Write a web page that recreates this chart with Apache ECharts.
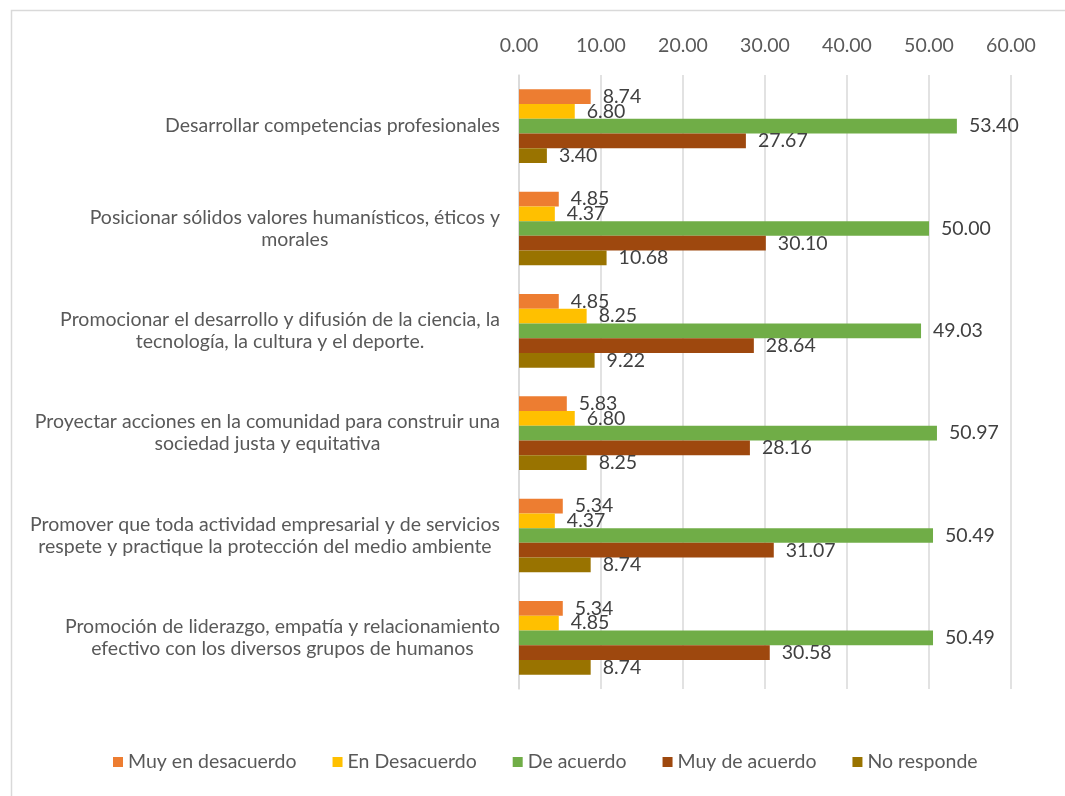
<!DOCTYPE html>
<html>
<head>
<meta charset="utf-8">
<script src="https://cdn.jsdelivr.net/npm/echarts@6/dist/echarts.min.js"></script>
<style>
  html, body { margin: 0; padding: 0; background: #fff; }
  #chart { width: 1065px; height: 796px; }
</style>
</head>
<body>
<div id="chart"></div>
<script>
// categories (top to bottom), line breaks as in the original chart
const categories = [
  'Desarrollar competencias profesionales',
  'Posicionar sólidos valores humanísticos, éticos y\nmorales',
  'Promocionar el desarrollo y difusión de la ciencia, la\ntecnología, la cultura y el deporte.',
  'Proyectar acciones en la comunidad para construir una\nsociedad justa y equitativa',
  'Promover que toda actividad empresarial y de servicios\nrespete y practique la protección del medio ambiente',
  'Promoción de liderazgo, empatía y relacionamiento\nefectivo con los diversos grupos de humanos',
];

const seriesNames = ['Muy en desacuerdo', 'En Desacuerdo', 'De acuerdo', 'Muy de acuerdo', 'No responde'];

const muyEnDesacuerdo = [8.74, 4.85, 4.85, 5.83, 5.34, 5.34];
const enDesacuerdo = [6.80, 4.37, 8.25, 6.80, 4.37, 4.85];
const deAcuerdo = [53.40, 50.00, 49.03, 50.97, 50.49, 50.49];
const muyDeAcuerdo = [27.67, 30.10, 28.64, 28.16, 31.07, 30.58];
const noResponde = [3.40, 10.68, 9.22, 8.25, 8.74, 8.74];

const colors = ['#ED7D31', '#FFC000', '#70AD47', '#9E480E', '#997300'];

const FONT = 'Lato, "Open Sans", sans-serif';
const FS = 19.5;
const chart = echarts.init(document.getElementById('chart'));

const series = [muyEnDesacuerdo, enDesacuerdo, deAcuerdo, muyDeAcuerdo, noResponde]
  .map((data, idx) => ({
    name: seriesNames[idx],
    type: 'bar',
    data,
    barGap: '0%',
    barCategoryGap: '28%',
    itemStyle: { color: colors[idx] },
    label: {
      show: true,
      position: 'right',
      distance: 12,
      color: '#404040',
      fontFamily: FONT,
      fontSize: FS,
      formatter: (p) => p.value.toFixed(2),
    },
  }));

chart.setOption({
  animation: false,
  color: colors,
  graphic: [{
    type: 'rect',
    left: 9,
    top: 8,
    shape: { width: 1080, height: 800 },
    style: { fill: 'none', stroke: '#d9d9d9', lineWidth: 1.5 },
    silent: true,
  }],
  grid: {
    left: 519,
    right: 54,
    top: 75,
    bottom: 107,
    containLabel: false,
  },
  legend: {
    bottom: 19,
    left: 108,
    itemWidth: 10,
    itemHeight: 10,
    itemGap: 36,
    icon: 'rect',
    textStyle: { color: '#595959', fontFamily: FONT, fontSize: FS },
    data: seriesNames,
  },
  xAxis: {
    type: 'value',
    position: 'top',
    min: 0,
    max: 60,
    interval: 10,
    axisLine: { show: false },
    axisTick: { show: false },
    splitLine: { lineStyle: { color: '#d9d9d9', width: 1.5 } },
    axisLabel: {
      color: '#595959',
      fontFamily: FONT,
      fontSize: FS,
      margin: 19,
      formatter: (v) => v.toFixed(2),
    },
  },
  yAxis: {
    type: 'category',
    inverse: true,
    data: categories,
    axisLine: { show: true, lineStyle: { color: '#d9d9d9', width: 1.5 } },
    axisTick: { show: false },
    axisLabel: {
      color: '#595959',
      fontFamily: FONT,
      fontSize: FS,
      margin: 19,
      lineHeight: 22,
      formatter: (v) => v.split('\n').map((l) => `{c|${l}}`).join('\n'),
      rich: {
        c: { align: 'center', color: '#595959', fontFamily: FONT, fontSize: FS, lineHeight: 22 },
      },
    },
  },
  series,
});
</script>
</body>
</html>
